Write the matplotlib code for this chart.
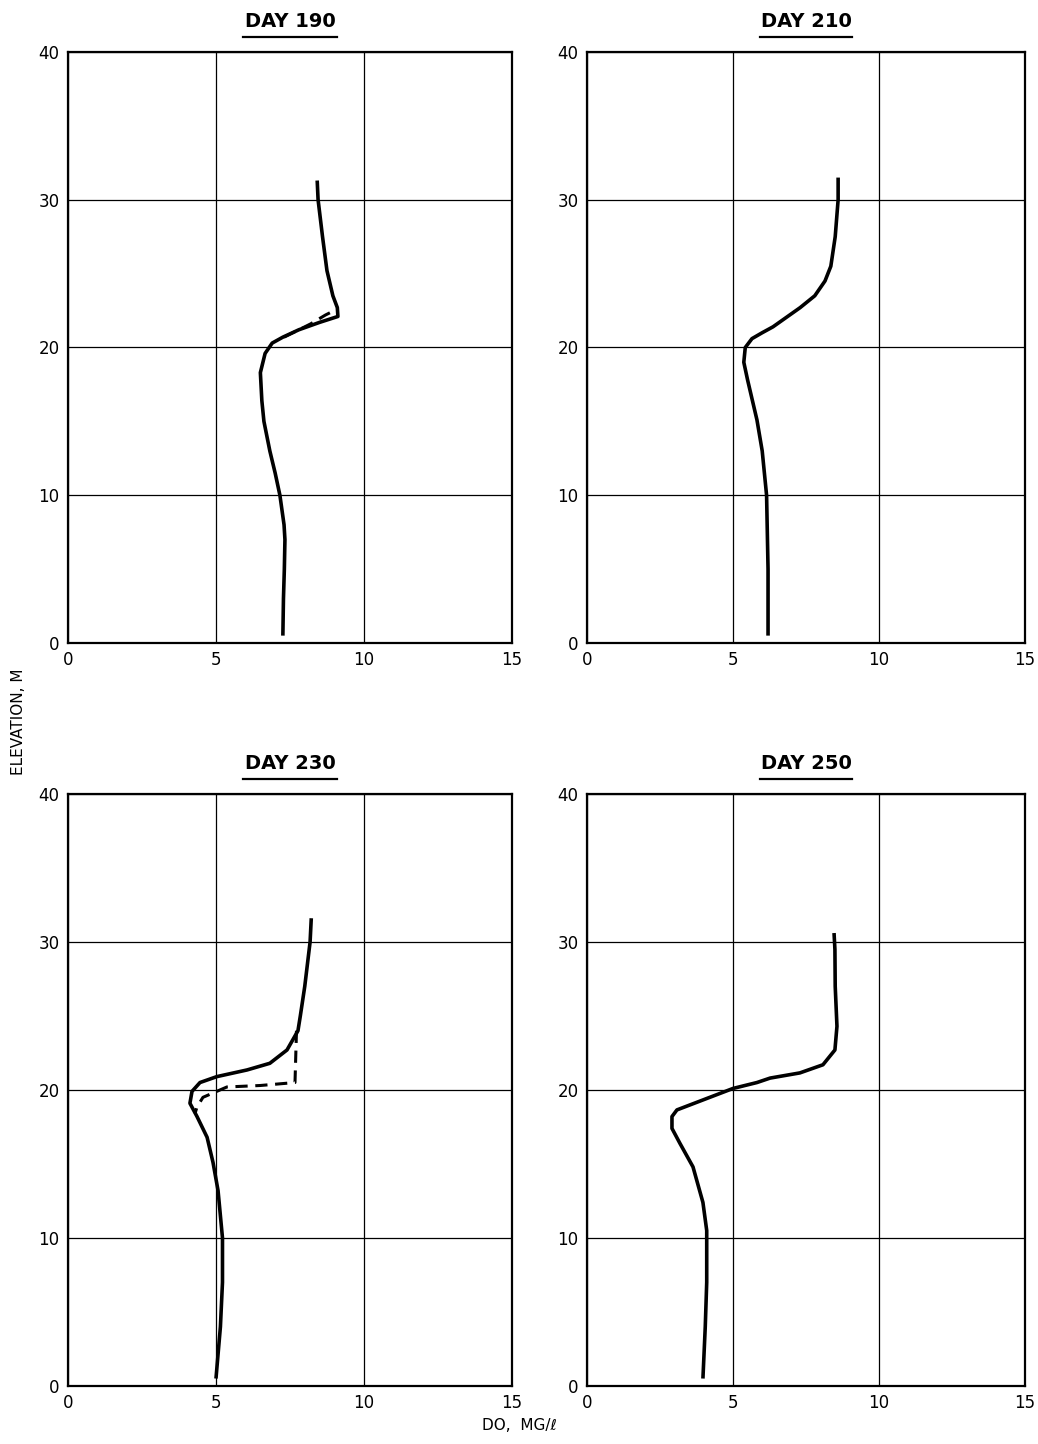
import matplotlib.pyplot as plt

# DO profiles (mg/l) vs elevation (m)
days = ['DAY 190', 'DAY 210', 'DAY 230', 'DAY 250']

z_190 = [31.3, 30, 27.5, 25.2, 23.5, 22.7, 22.1, 21.7, 21.2, 20.7, 20.3, 19.6, 18.3, 16.4, 15, 13, 11.5, 10, 8, 7, 5, 3, 0.5]
do_190 = [8.42, 8.45, 8.6, 8.75, 8.95, 9.1, 9.12, 8.5, 7.8, 7.26, 6.9, 6.66, 6.5, 6.55, 6.62, 6.82, 7.0, 7.16, 7.3, 7.33, 7.31, 7.28, 7.26]
z_190_dash = [20.7, 21.6, 22.2, 22.6]
do_190_dash = [7.3, 8.2, 8.7, 9.1]

z_210 = [31.5, 30, 27.5, 25.5, 24.5, 23.5, 22.7, 21.4, 21.0, 20.6, 20.0, 19.0, 17.8, 15.1, 13, 10, 5, 0.5]
do_210 = [8.6, 8.6, 8.5, 8.35, 8.15, 7.8, 7.3, 6.37, 6.0, 5.65, 5.42, 5.37, 5.5, 5.82, 6.0, 6.15, 6.2, 6.2]

z_230 = [31.6, 30, 27, 25, 24, 22.7, 21.8, 21.35, 20.9, 20.5, 19.9, 19.1, 18.2, 16.8, 15.1, 13.2, 10, 7, 4, 0.5]
do_230 = [8.22, 8.18, 8.0, 7.85, 7.77, 7.4, 6.82, 6.05, 5.03, 4.46, 4.19, 4.12, 4.36, 4.7, 4.9, 5.07, 5.22, 5.22, 5.15, 5.0]
z_230_dash = [24.0, 20.5, 20.3, 20.2, 19.5, 18.85, 18.4]
do_230_dash = [7.72, 7.67, 6.5, 5.37, 4.56, 4.36, 4.29]

z_250 = [30.6, 29.5, 27, 24.3, 22.7, 21.7, 21.15, 20.8, 20.5, 20.1, 18.65, 18.2, 17.4, 16.4, 14.8, 12.4, 10.5, 7, 4, 0.5]
do_250 = [8.46, 8.49, 8.5, 8.56, 8.49, 8.08, 7.29, 6.27, 5.82, 5.0, 3.08, 2.91, 2.91, 3.18, 3.63, 3.97, 4.1, 4.1, 4.05, 3.97]

x_ticks = [0, 5, 10, 15]
y_ticks = [0, 10, 20, 30, 40]

solid = [(do_190, z_190), (do_210, z_210), (do_230, z_230), (do_250, z_250)]
dashed = {0: (do_190_dash, z_190_dash), 2: (do_230_dash, z_230_dash)}

fig = plt.figure(figsize=(10.38, 14.44), dpi=100)
plt.rcParams['font.family'] = ['DejaVu Sans']

# axes boxes in figure fractions (left, bottom, width, height)
boxes = [
    [0.0655, 0.5547, 0.4277, 0.4093],
    [0.5655, 0.5547, 0.4220, 0.4093],
    [0.0655, 0.0402, 0.4277, 0.4100],
    [0.5655, 0.0402, 0.4220, 0.4100],
]

for i, box in enumerate(boxes):
    ax = fig.add_axes(box)
    ax.set_xlim(0, 15)
    ax.set_ylim(0, 40)
    ax.set_xticks(x_ticks)
    ax.set_yticks(y_ticks)
    ax.grid(True, color='black', linewidth=0.9)
    ax.tick_params(length=0, labelsize=12, pad=6)
    for s in ax.spines.values():
        s.set_linewidth(1.6)

    x, z = solid[i]
    ax.plot(x, z, color='black', linewidth=2.6, solid_joinstyle='round', solid_capstyle='butt')
    if i in dashed:
        xd, zd = dashed[i]
        ax.plot(xd, zd, color='black', linewidth=2.2, linestyle=(0, (4, 2.5)))

    # underlined title
    ax.text(0.5, 1.035, days[i], transform=ax.transAxes, ha='center', va='bottom',
            fontsize=14, fontweight='bold')
    ax.plot([0.395, 0.605], [1.025, 1.025], transform=ax.transAxes, color='black',
            linewidth=1.6, clip_on=False)

fig.text(0.018, 0.5, 'ELEVATION, M', rotation=90, ha='center', va='center', fontsize=11)
fig.text(0.50, 0.013, 'DO,  MG/\u2113', ha='center', va='center', fontsize=11)

fig.savefig('out.png', dpi=100)
